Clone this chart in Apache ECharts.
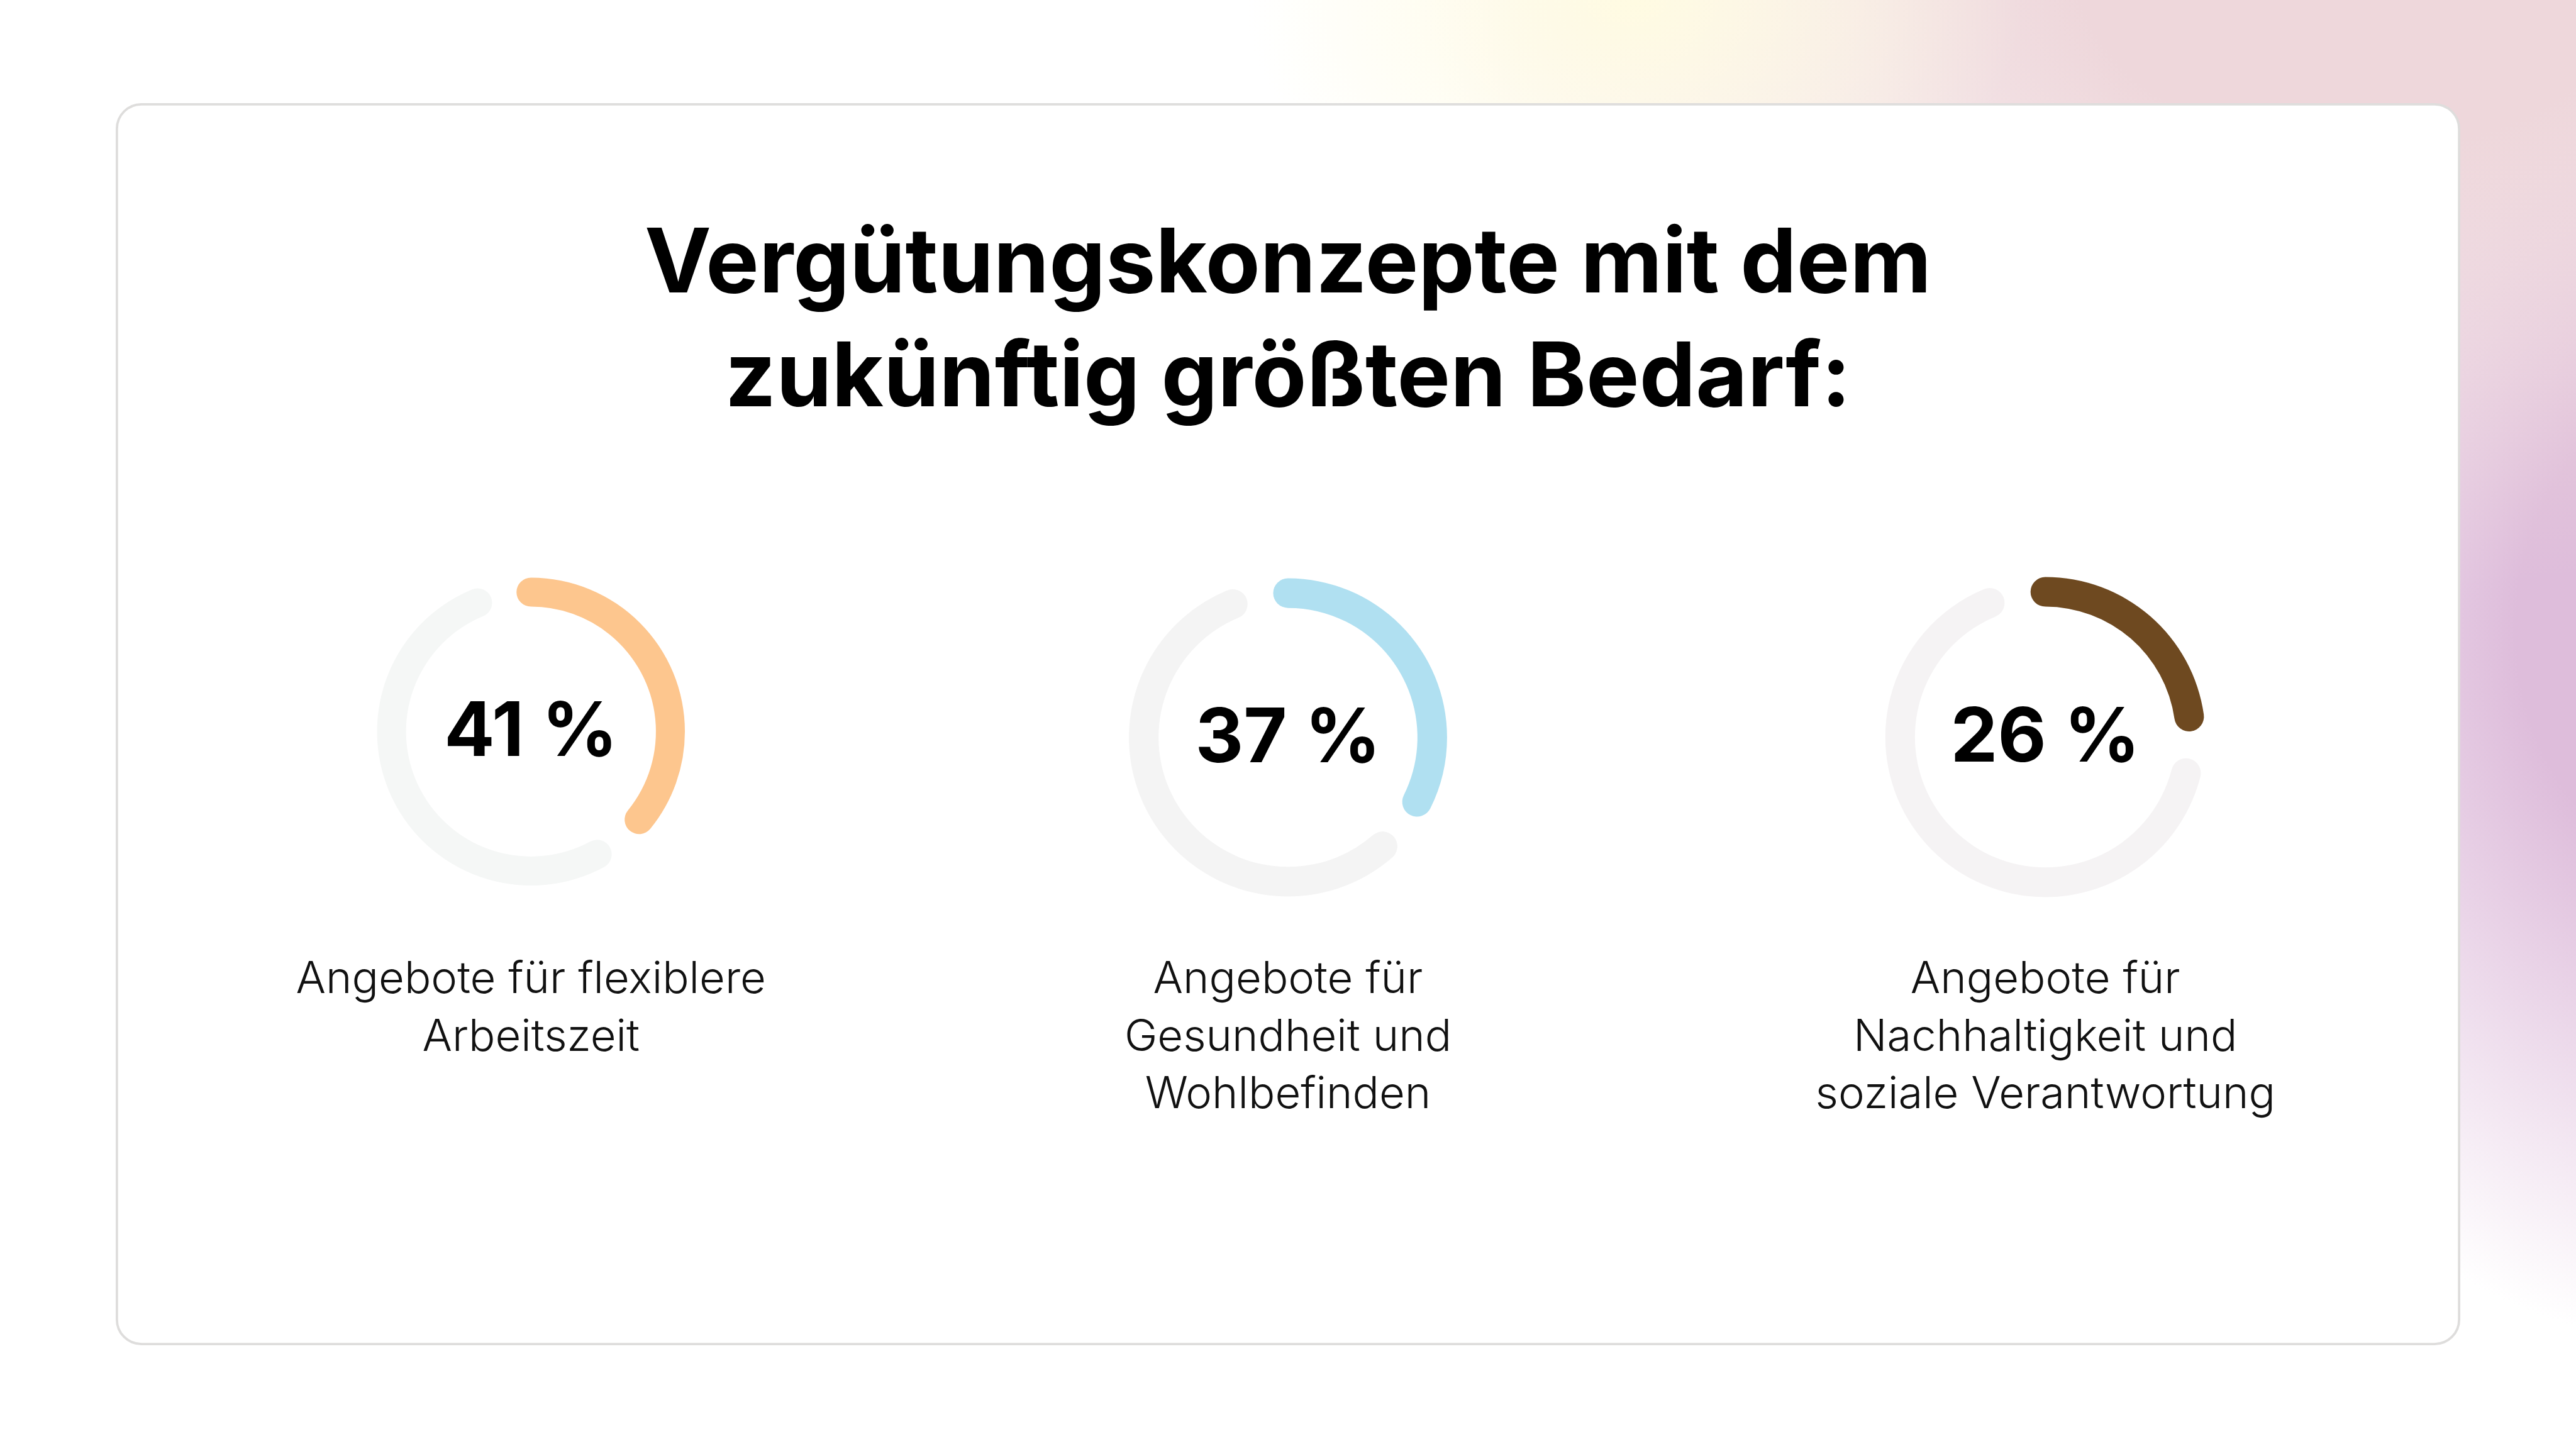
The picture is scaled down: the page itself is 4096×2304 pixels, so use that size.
<!DOCTYPE html>
<html>
<head>
<meta charset="utf-8">
<script src="https://cdn.jsdelivr.net/npm/echarts@6/dist/echarts.min.js"></script>
<style>
  html, body { margin: 0; padding: 0; }
  body {
    width: 4096px; height: 2304px; overflow: hidden;
    background:
      radial-gradient(ellipse 620px 420px at 2600px 0px, rgba(255,251,226,1) 0%, rgba(255,251,226,0) 100%),
      radial-gradient(ellipse 1500px 1000px at 3750px -60px, rgba(238,215,219,1) 30%, rgba(238,215,219,0) 100%),
      radial-gradient(ellipse 1000px 1150px at 4350px 1000px, rgba(222,189,219,1) 35%, rgba(222,189,219,0) 100%),
      #ffffff;
  }
  #chart { width: 4096px; height: 2304px; }
</style>
</head>
<body>
<div id="chart"></div>
<script>
// ---- data ----
const titleLines = ['Vergütungskonzepte mit dem', 'zukünftig größten Bedarf:'];
const categories = [
  'Angebote für flexiblere\nArbeitszeit',
  'Angebote für\nGesundheit und\nWohlbefinden',
  'Angebote für\nNachhaltigkeit und\nsoziale Verantwortung'
];
const shares = [41, 37, 26];   // % highlighted
const rest = [59, 63, 74];     // remaining %

// ---- style / layout ----
const S = 0.512;
const FONT = 'Inter, "Noto Sans", sans-serif';
const accentColors = ['#FDC68E', '#B0E0F1', '#6E4920'];
const trackColors = ['#F5F7F6', '#F4F4F4', '#F5F3F4'];
const donutLayout = [
  { cx: 1649 * S, cy: 2272 * S, r: 478 * S, w: 90 * S, textY: 2264 * S },
  { cx: 4000 * S, cy: 2290 * S, r: 494 * S, w: 92 * S, textY: 2283 * S },
  { cx: 6352 * S, cy: 2289 * S, r: 497 * S, w: 92 * S, textY: 2282 * S }
];
const PAD_DEG = 22.5;                       // gap between arcs in degrees
const AXIS_MAX = 100 * 360 / (360 - 2 * PAD_DEG);
const GAP_VAL = 100 * PAD_DEG / (360 - 2 * PAD_DEG);

const chart = echarts.init(document.getElementById('chart'), null, { renderer: 'canvas' });

const polar = [], angleAxis = [], radiusAxis = [], series = [];
donutLayout.forEach((d, i) => {
  polar.push({ center: [d.cx, d.cy], radius: [d.r - d.w, d.r] });
  angleAxis.push({ polarIndex: i, type: 'value', min: 0, max: AXIS_MAX, startAngle: 90, clockwise: true, show: false });
  radiusAxis.push({ polarIndex: i, type: 'category', data: [categories[i]], show: false });
  const common = { type: 'bar', coordinateSystem: 'polar', polarIndex: i, stack: 'd' + i, roundCap: true,
                   barWidth: d.w, silent: true, animation: false };
  series.push(Object.assign({}, common, { name: 'share' + i, data: [shares[i]], itemStyle: { color: accentColors[i] }, z: 3 }));
  series.push(Object.assign({}, common, { name: 'gap' + i, data: [GAP_VAL], itemStyle: { color: 'rgba(0,0,0,0)' } }));
  series.push(Object.assign({}, common, { name: 'rest' + i, data: [rest[i]], itemStyle: { color: trackColors[i] }, z: 2 }));
});

const graphics = [];
// card
graphics.push({
  type: 'rect', z: -10, silent: true,
  shape: { x: 363 * S, y: 324 * S, width: (7637 - 363) * S, height: (4174 - 324) * S, r: 76 * S },
  style: { fill: '#ffffff', stroke: '#DEDDDC', lineWidth: 7.4 * S }
});
// title
const titleFs = 142;
const titleCapCenters = [808 * S, 1162.5 * S];
titleLines.forEach((t, k) => {
  graphics.push({
    type: 'text', z: 10, silent: true,
    style: { text: t, x: 4000 * S, y: titleCapCenters[k] + 0.06 * titleFs, align: 'center', verticalAlign: 'middle',
             fontFamily: FONT, fontWeight: 700, fontSize: titleFs, fill: '#000000' }
  });
});
// percent labels and category labels
const pctFs = 119;
const labFs = 70.5;
const labLineH = 179 * S;
const labCap1 = 3034.5 * S;
donutLayout.forEach((d, i) => {
  graphics.push({
    type: 'text', z: 10, silent: true,
    style: { text: shares[i] + ' %', x: d.cx, y: d.textY + 0.06 * pctFs, align: 'center', verticalAlign: 'middle',
             fontFamily: FONT, fontWeight: 700, fontSize: pctFs, fill: '#000000' }
  });
  graphics.push({
    type: 'text', z: 10, silent: true,
    style: { text: categories[i], x: d.cx, y: labCap1 - labLineH / 2 + 0.06 * labFs, align: 'center', verticalAlign: 'top',
             fontFamily: FONT, fontWeight: 300, fontSize: labFs, lineHeight: labLineH, fill: '#111111' }
  });
});

chart.setOption({
  backgroundColor: 'transparent',
  animation: false,
  polar, angleAxis, radiusAxis, series,
  graphic: { elements: graphics }
});
</script>
</body>
</html>
